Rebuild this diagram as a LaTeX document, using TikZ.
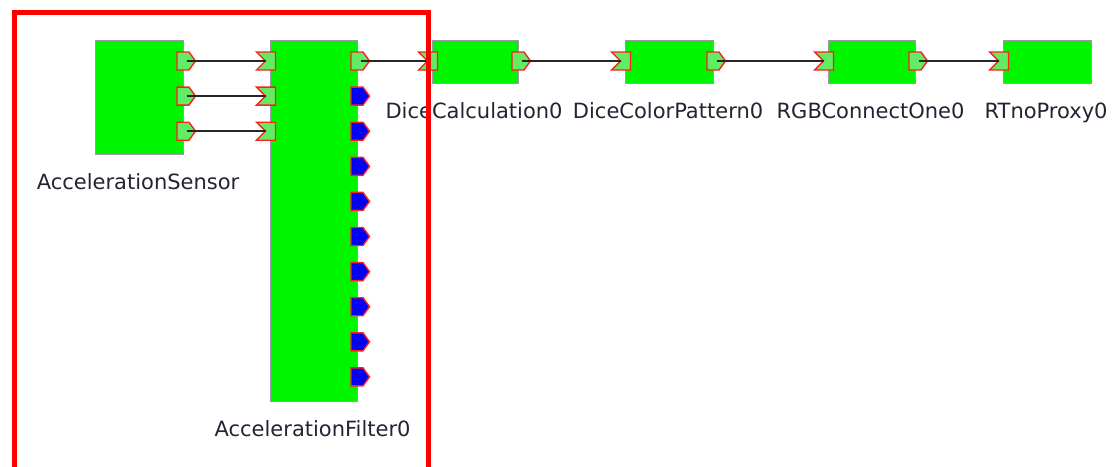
\documentclass[tikz,border=0pt]{standalone}
\usepackage{fontspec}
\setmainfont{DejaVu Sans}
\usetikzlibrary{calc}
\definecolor{compgreen}{RGB}{0,245,0}
\definecolor{portgreen}{RGB}{100,235,100}
\definecolor{portblue}{RGB}{0,0,245}
\definecolor{portred}{RGB}{255,30,30}
\definecolor{boxgray}{RGB}{160,150,170}
\definecolor{labelink}{RGB}{35,35,50}
\begin{document}
\begin{tikzpicture}[x=1pt,y=-1pt,
  comp/.style={draw=boxgray,fill=compgreen,line width=1.1pt,inner sep=0pt,anchor=north west},
  lbl/.style={anchor=base,inner sep=0pt,text=labelink,font=\fontsize{21}{24}\selectfont},
  portbody/.style={draw=portred,line width=1.4pt,line join=miter},
  wire/.style={draw=black!85,line width=1.8pt},
  frame/.style={draw=red,line width=5pt,line join=miter},
  pics/outport/.style={code={
    \path[portbody,fill=#1] (0,-9) -- (12,-9) -- (18.5,0) -- (12,9) -- (0,9) -- cycle;
    \coordinate (-c) at (9.5,0);
  }},
  pics/outport/.default=portgreen,
  pics/inport/.style={code={
    \path[portbody,fill=portgreen] (0,-9) -- (19,-9) -- (19,9) -- (0,9) -- (9,0) -- cycle;
    \coordinate (-n) at (9,0);
  }}]
\useasboundingbox (0,0) rectangle (1115,466);

% components
\node[comp,minimum width=88pt,minimum height=114pt] (sensor) at (95,40) {};
\node[comp,minimum width=87pt,minimum height=361pt] (filter) at (270,40) {};
\node[comp,minimum width=86pt,minimum height=43pt] (calc) at (432,40) {};
\node[comp,minimum width=88pt,minimum height=43pt] (color) at (625,40) {};
\node[comp,minimum width=87pt,minimum height=43pt] (rgb) at (828,40) {};
\node[comp,minimum width=88pt,minimum height=43pt] (rtno) at (1003,40) {};

% component names
\node[lbl] (sensorlbl) at ($(sensor.south)+(-1.5,34.5)$) {AccelerationSensor};
\node[lbl] (filterlbl) at ($(filter.south)+(-1.5,34.5)$) {AccelerationFilter0};
\node[lbl] (calclbl) at ($(calc.south)+(-1.5,34.5)$) {DiceCalculation0};
\node[lbl] (colorlbl) at ($(color.south)+(-1.5,34.5)$) {DiceColorPattern0};
\node[lbl] (rgblbl) at ($(rgb.south)+(-1.5,34.5)$) {RGBConnectOne0};
\node[lbl] (rtnolbl) at ($(rtno.south)+(-1.5,34.5)$) {RTnoProxy0};

% sensor outputs and filter inputs
\foreach \k in {0,1,2} {
  \pic (so\k) at (177,61+35.1*\k) {outport};
  \pic (fi\k) at (256.5,61+35.1*\k) {inport};
}
% filter outputs
\pic (fo0) at (351,61) {outport};
\foreach \k in {1,...,9} {
  \pic (fo\k) at (351,61+35.1*\k) {outport=portblue};
}
% chain ports
\pic (ci) at (418.5,61) {inport};
\pic (co) at (512,61) {outport};
\pic (pi) at (611.5,61) {inport};
\pic (po) at (707,61) {outport};
\pic (ri) at (814.5,61) {inport};
\pic (ro) at (909,61) {outport};
\pic (xi) at (989.5,61) {inport};

% connections
\foreach \k in {0,1,2} { \draw[wire] (so\k-c) -- (fi\k-n); }
\draw[wire] (fo0-c) -- (ci-n);
\draw[wire] (co-c) -- (pi-n);
\draw[wire] (po-c) -- (ri-n);
\draw[wire] (ro-c) -- (xi-n);

% highlight frame
\draw[frame] (14.5,480) -- (14.5,12) -- (428,12) -- (428,480);
\end{tikzpicture}
\end{document}
